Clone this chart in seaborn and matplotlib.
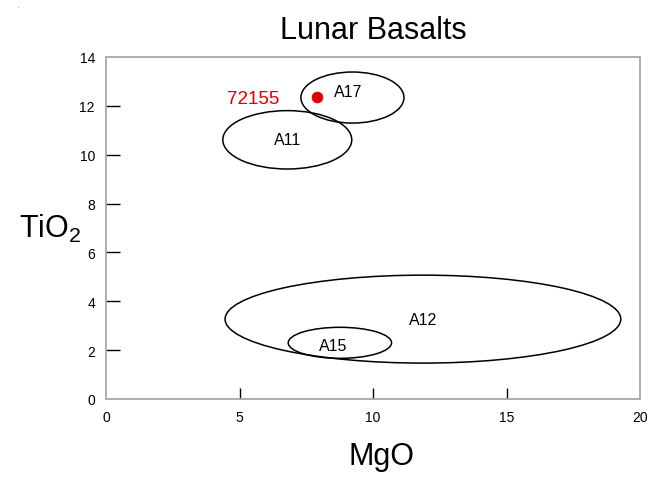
import matplotlib
matplotlib.use('Agg')
import matplotlib.pyplot as plt
from matplotlib.patches import Ellipse
import seaborn as sns
import pandas as pd

# mission fields (ellipse centre, width, height in data units)
fields = ['A11', 'A12', 'A15', 'A17']
field_mgo = [6.79, 11.87, 8.76, 9.23]
field_tio2 = [10.61, 3.27, 2.30, 12.34]
field_w = [4.83, 14.82, 3.87, 3.86]
field_h = [2.39, 3.60, 1.27, 2.09]

# sample point
sample_name = ['72155']
sample_mgo = [7.9]
sample_tio2 = [12.35]

x_ticks = [0, 5, 10, 15, 20]
y_ticks = [0, 2, 4, 6, 8, 10, 12, 14]

sns.set_style('white')
plt.rcParams['font.family'] = ['Liberation Sans', 'DejaVu Sans']
plt.rcParams['mathtext.fontset'] = 'custom'
plt.rcParams['mathtext.rm'] = 'Liberation Sans'
plt.rcParams['mathtext.default'] = 'regular'
plt.rcParams['text.color'] = 'black'
plt.rcParams['axes.labelcolor'] = 'black'
plt.rcParams['xtick.color'] = 'black'
plt.rcParams['ytick.color'] = 'black'

fig = plt.figure(figsize=(6.59, 4.85), dpi=100)
ax = fig.add_axes([106 / 659, 1 - 400 / 485, 534 / 659, 342 / 485])

for name, cx, cy, w, h in zip(fields, field_mgo, field_tio2, field_w, field_h):
    ax.add_patch(Ellipse((cx, cy), w, h, fill=False, edgecolor='black', linewidth=1.1))
    dx = -3 if name == 'A17' else (-5 if name == 'A15' else 0)
    dy = 4 if name == 'A17' else (-2 if name == 'A15' else 0)
    ax.annotate(name, (cx, cy), xytext=(dx, dy), textcoords='offset points',
                ha='center', va='center', fontsize=11.5, color='black')

df = pd.DataFrame({'MgO': sample_mgo, 'TiO2': sample_tio2, 'name': sample_name})
sns.scatterplot(data=df, x='MgO', y='TiO2', color='#e00000', s=60,
                edgecolor='#e00000', ax=ax, zorder=5, legend=False)
for _, r in df.iterrows():
    ax.annotate(r['name'], (r['MgO'], r['TiO2']), xytext=(-46, -1), textcoords='offset points',
                ha='center', va='center', fontsize=13.5, color='#e00000')

ax.set_xlim(0, 20)
ax.set_ylim(0, 14)
ax.set_xticks(x_ticks)
ax.set_yticks(y_ticks)
ax.tick_params(axis='x', bottom=True, direction='in', length=8, width=1, color='black', pad=8, labelsize=10)
ax.tick_params(axis='y', left=True, direction='in', length=10, width=1, color='black', pad=8, labelsize=10)
# no tick marks at the axis ends, only the labels
for axis in (ax.xaxis, ax.yaxis):
    ticks = axis.get_major_ticks()
    for t in (ticks[0], ticks[-1]):
        t.tick1line.set_visible(False)
for s in ax.spines.values():
    s.set_visible(True)
    s.set_color('#a8a8a8')
    s.set_linewidth(1.3)

ax.set_title('Lunar Basalts', fontsize=22, pad=14)
ax.set_xlabel('MgO', fontsize=22, labelpad=12)
ax.xaxis.label.set_x(0.515)
ax.set_ylabel('TiO$_2$', fontsize=22, rotation=0, va='center', ha='center')
ax.yaxis.set_label_coords(-0.105, 0.5)

fig.text(18 / 659, 1 - 8 / 485, '.', fontsize=4, color='black')

fig.savefig('out.png', dpi=100)
